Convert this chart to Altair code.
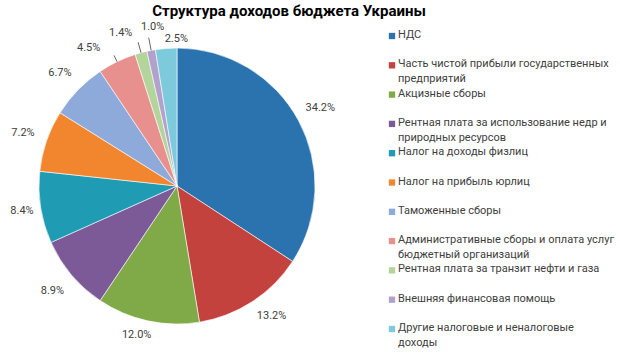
import altair as alt
import pandas as pd

categories = [
    "НДС",
    "Часть чистой прибыли государственных\nпредприятий",
    "Акцизные сборы",
    "Рентная плата за использование недр и\nприродных ресурсов",
    "Налог на доходы физлиц",
    "Налог на прибыль юрлиц",
    "Таможенные сборы",
    "Административные сборы и оплата услуг\nбюджетный организаций",
    "Рентная плата за транзит нефти и газа",
    "Внешняя финансовая помощь",
    "Другие налоговые и неналоговые\nдоходы",
]
values = [34.2, 13.2, 12.0, 8.9, 8.4, 7.2, 6.7, 4.5, 1.4, 1.0, 2.5]
colors = ["#2A73AE", "#C4423E", "#80A948", "#7C5A98", "#1F9CB4", "#F2862F",
          "#8DAADA", "#E7908E", "#B3D49A", "#B2A1CC", "#7CCADB"]

df = pd.DataFrame({
    "cat": categories,
    "value": values,
    "idx": list(range(len(values))),
    "label": [f"{v:.1f}%" for v in values],
})

CX, CY, R = 177, 186, 138
FONT = "Roboto"
TXT = "#404040"

color = alt.Color("cat:N", scale=alt.Scale(domain=categories, range=colors), legend=None)

pie = alt.Chart(df).mark_arc(radius=R, stroke="#ffffff", strokeWidth=0.6).encode(
    theta=alt.Theta("value:Q", stack=True),
    order=alt.Order("idx:Q"),
    x=alt.value(CX), y=alt.value(CY), color=color,
)

# mid-angle of each slice, computed from the data
polar = alt.Chart(df).transform_window(
    cum="sum(value)", sort=[alt.SortField("idx")], frame=[None, 0]
).transform_joinaggregate(total="sum(value)").transform_calculate(
    mid="(datum.cum - datum.value/2) / datum.total * 2 * PI"
)

def lab(names, dx=0, dy=0, r=162):
    return polar.transform_filter(
        alt.FieldOneOfPredicate(field="label", oneOf=names)
    ).mark_text(radius=r, font=FONT, fontSize=11, color=TXT, dx=dx, dy=dy).encode(
        theta=alt.Theta("mid:Q", scale=None, stack=None),
        x=alt.value(CX), y=alt.value(CY), text="label:N",
    )

label_layers = [
    lab(["34.2%", "8.9%", "7.2%", "6.7%"], r=163),
    lab(["13.2%"], 6, -6),
    lab(["12.0%"], -6, -9),
    lab(["8.4%"], 5, 0),
    lab(["4.5%"], -18, 8),
    lab(["1.4%"], -14, 3),
    lab(["1.0%"], 6, 0),
    lab(["2.5%"], 12, 15),
]

def leader(name, r1, r2):
    return polar.transform_filter(alt.datum.label == name).transform_calculate(
        x1=f"{CX} + {r1} * sin(datum.mid)",
        y1=f"{CY} - {r1} * cos(datum.mid)",
        x2=f"{CX} + {r2} * sin(datum.mid)",
        y2=f"{CY} - {r2} * cos(datum.mid)",
    ).mark_rule(color=TXT, strokeWidth=0.8).encode(
        x=alt.X("x1:Q", scale=None), y=alt.Y("y1:Q", scale=None),
        x2="x2:Q", y2="y2:Q",
    )

leaders = [leader("4.5%", R, R + 7), leader("1.4%", R, R + 11), leader("1.0%", R, R + 13)]

# legend
leg_y = alt.Y("cat:N", sort=categories,
              scale=alt.Scale(type="point", range=[36, 329], padding=0), axis=None)
leg_sq = alt.Chart(df).mark_square(size=40, opacity=1).encode(
    x=alt.value(392), y=leg_y, color=color
)
leg_tx = alt.Chart(df).mark_text(
    align="left", baseline="top", font=FONT, fontSize=11, color=TXT,
    lineBreak="\n", dy=-7, lineHeight=15
).encode(x=alt.value(398), y=leg_y, text="cat:N")

title = alt.Chart(df).mark_text(
    text="Структура  доходов бюджета Украины", font=FONT, fontSize=15, fontWeight="bold",
    color="#000000", align="center", baseline="middle"
).encode(x=alt.value(289), y=alt.value(11)).transform_filter(alt.datum.idx == 0)

chart = alt.layer(pie, *label_layers, *leaders, leg_sq, leg_tx, title).properties(
    width=620, height=353, padding=0, autosize="none", background="#ffffff"
).configure_view(stroke=None)

chart.save("out.html", embed_options={"renderer": "svg", "actions": False})
